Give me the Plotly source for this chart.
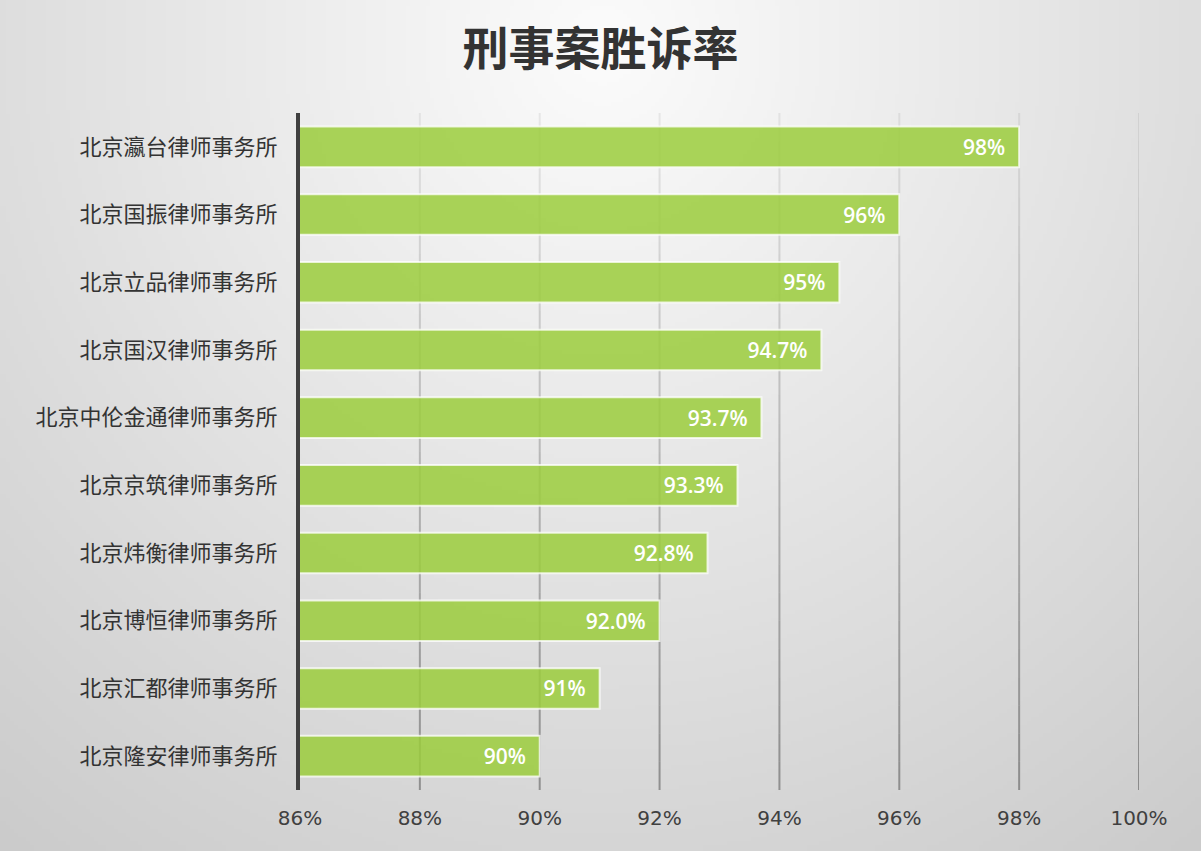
import base64
import struct
import zlib

import numpy as np
import plotly.graph_objects as go

firms = [
    "北京瀛台律师事务所",
    "北京国振律师事务所",
    "北京立品律师事务所",
    "北京国汉律师事务所",
    "北京中伦金通律师事务所",
    "北京京筑律师事务所",
    "北京炜衡律师事务所",
    "北京博恒律师事务所",
    "北京汇都律师事务所",
    "北京隆安律师事务所",
]
win_rate = [98, 96, 95, 94.7, 93.7, 93.3, 92.8, 92.0, 91, 90]
rate_labels = ["98%", "96%", "95%", "94.7%", "93.7%", "93.3%", "92.8%", "92.0%", "91%", "90%"]
tick_vals = [86, 88, 90, 92, 94, 96, 98, 100]
tick_text = ["86%", "88%", "90%", "92%", "94%", "96%", "98%", "100%"]


def png_data_uri(rgb):
    # minimal PNG writer so the gradient needs no extra library
    h, w, _ = rgb.shape
    raw = b"".join(b"\x00" + rgb[i].tobytes() for i in range(h))

    def chunk(tag, data):
        c = struct.pack(">I", len(data)) + tag + data
        return c + struct.pack(">I", zlib.crc32(tag + data) & 0xffffffff)

    png = b"\x89PNG\r\n\x1a\n"
    png += chunk(b"IHDR", struct.pack(">IIBBBBB", w, h, 8, 2, 0, 0, 0))
    png += chunk(b"IDAT", zlib.compress(raw, 9))
    png += chunk(b"IEND", b"")
    return "data:image/png;base64," + base64.b64encode(png).decode()


# radial gradient background: white near the title, grey towards the corners
gw, gh = 300, 213
yy, xx = np.mgrid[0:gh, 0:gw]
dist = np.sqrt(((xx - gw * 0.5) / (gw * 0.75)) ** 2 + ((yy - gh * 0.05) / (gh * 1.1)) ** 2)
shade = 252 - np.clip(dist, 0, 1.3) * 45
bg = np.repeat(shade[:, :, None], 3, axis=2).astype(np.uint8)

fig = go.Figure()
fig.add_trace(go.Bar(
    x=win_rate,
    y=firms,
    orientation="h",
    width=0.6,
    marker=dict(color="rgba(155,204,60,0.85)",
                line=dict(color="rgba(255,255,255,0.75)", width=2)),
    text=rate_labels,
    texttemplate="%{text}\u00a0\u00a0",
    textposition="inside",
    insidetextanchor="end",
    textfont=dict(color="white", size=21, family="Open Sans", weight=600),
    hoverinfo="skip",
))

fig.add_layout_image(dict(
    source=png_data_uri(bg), xref="paper", yref="paper",
    x=-300 / 839, y=1 + 113 / 677, sizex=1201 / 839, sizey=851 / 677,
    xanchor="left", yanchor="top", sizing="stretch", layer="below",
))

# gridlines fade from light at the top to darker at the bottom
n_seg = 24
for tv in tick_vals[1:]:
    for i in range(n_seg):
        alpha = 0.08 + 0.42 * (i + 0.5) / n_seg
        fig.add_shape(type="line", xref="x", yref="paper", x0=tv, x1=tv,
                      y0=1 - i / n_seg, y1=1 - (i + 1) / n_seg,
                      line=dict(color=f"rgba(70,70,70,{alpha:.3f})", width=2),
                      layer="below")

fig.update_layout(
    width=1201,
    height=851,
    margin=dict(l=300, r=62, t=113, b=61),
    paper_bgcolor="#d4d4d4",
    plot_bgcolor="rgba(0,0,0,0)",
    showlegend=False,
    title=dict(text="<b>刑事案胜诉率</b>", x=0.5, xanchor="center", y=0.943, yanchor="middle",
               font=dict(family="Noto Sans CJK SC", size=46, color="#333333")),
    xaxis=dict(
        range=[86, 100],
        tickvals=tick_vals,
        ticktext=tick_text,
        showgrid=False,
        zeroline=False,
        showline=False,
        ticks="",
        ticklabelstandoff=14,
        tickfont=dict(family="DejaVu Sans", size=20, color="#404040"),
        fixedrange=True,
    ),
    yaxis=dict(
        autorange="reversed",
        showgrid=False,
        showline=True,
        linecolor="#404040",
        linewidth=4,
        ticks="",
        ticklabelstandoff=14,
        tickfont=dict(family="Noto Sans CJK SC", size=22, color="#333333"),
        fixedrange=True,
    ),
)

fig.write_html("out.html", config={"displayModeBar": False},
               post_script="document.body.style.margin='0';")
